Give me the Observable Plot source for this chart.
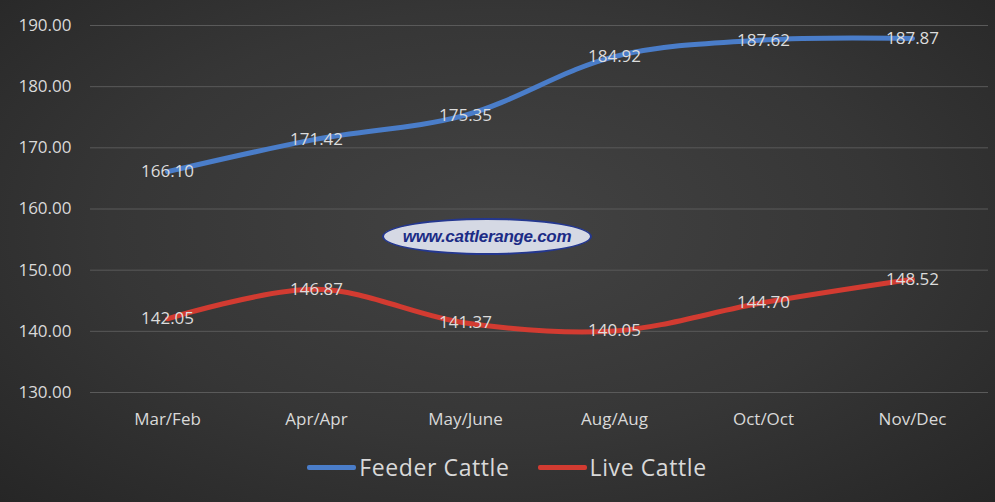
<!DOCTYPE html>
<html>
<head>
<meta charset="utf-8">
<script src="https://cdn.jsdelivr.net/npm/d3@7"></script>
<script src="https://cdn.jsdelivr.net/npm/@observablehq/plot@0.6"></script>
<style>
  html, body { margin: 0; padding: 0; }
  body {
    width: 995px; height: 502px; overflow: hidden; position: relative;
    background: radial-gradient(ellipse at 50% 45%, #434343 0%, #363636 55%, #262626 100%);
    font-family: "Open Sans", sans-serif;
  }
  #legend {
    position: absolute; left: 0; top: 447px; width: 995px; height: 40px; box-sizing: border-box; padding-left: 19px;
    display: flex; justify-content: center; align-items: center; gap: 28px;
    color: #d9d9d9; font-size: 23px; letter-spacing: 0.6px;
  }
  .item { display: flex; align-items: center; }
  .swatch { width: 49px; height: 5px; margin-right: 3px; border-radius: 2px; }
  #watermark {
    position: absolute; left: 382px; top: 218px; width: 210px; height: 37px;
    border-radius: 50%; background: #d5d9e4; border: 2px solid #24378f; box-sizing: border-box;
    display: flex; justify-content: center; align-items: center;
    font: italic bold 17px "Liberation Sans", Arial, sans-serif; color: #1c2c86; letter-spacing: -0.3px;
  }
</style>
</head>
<body>
<div id="chart"></div>
<div id="watermark">www.cattlerange.com</div>
<div id="legend"></div>
<script>
const months = ["Mar/Feb", "Apr/Apr", "May/June", "Aug/Aug", "Oct/Oct", "Nov/Dec"];
const feederCattle = [166.10, 171.42, 175.35, 184.92, 187.62, 187.87];
const liveCattle = [142.05, 146.87, 141.37, 140.05, 144.70, 148.52];
const seriesNames = ["Feeder Cattle", "Live Cattle"];
const seriesColors = ["#4a7dc9", "#d23b31"];
const yTicks = [130, 140, 150, 160, 170, 180, 190];

const data = [];
[feederCattle, liveCattle].forEach((vals, si) => {
  vals.forEach((v, i) => data.push({series: seriesNames[si], month: months[i], value: v}));
});

const chart = Plot.plot({
  width: 995,
  height: 440,
  marginLeft: 90,
  marginRight: 7,
  marginTop: 25,
  marginBottom: 48,
  style: {background: "transparent", color: "#d9d9d9", fontFamily: "Open Sans, sans-serif", fontSize: "17px"},
  x: {type: "point", domain: months, padding: 0.5, label: null, tickSize: 0, tickPadding: 20},
  y: {domain: [130, 190], ticks: yTicks, tickFormat: d3.format(".2f"), label: null, tickSize: 0, tickPadding: 19},
  color: {domain: seriesNames, range: seriesColors},
  marks: [
    Plot.gridY(yTicks, {stroke: "#5a5a5a", strokeOpacity: 1, strokeWidth: 1}),
    Plot.line(data, {x: "month", y: "value", z: "series", stroke: "series", strokeWidth: 5, curve: "catmull-rom"}),
    Plot.text(data, {x: "month", y: "value", text: d => d.value.toFixed(2), fill: "#dcdcdc", fontSize: 17})
  ]
});
document.getElementById("chart").appendChild(chart);

const legend = document.getElementById("legend");
seriesNames.forEach((n, i) => {
  const item = document.createElement("div");
  item.className = "item";
  item.innerHTML = `<span class="swatch" style="background:${seriesColors[i]}"></span><span>${n}</span>`;
  legend.appendChild(item);
});
</script>
</body>
</html>
